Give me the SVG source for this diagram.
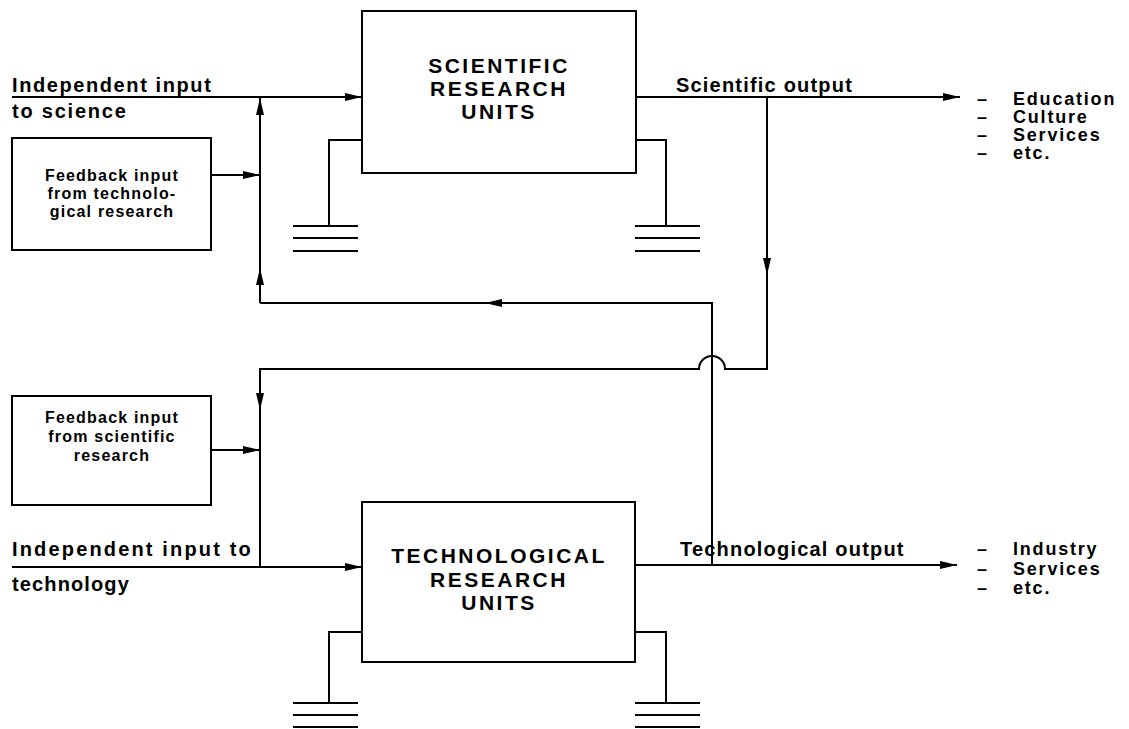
<svg xmlns="http://www.w3.org/2000/svg" width="1129" height="729" viewBox="0 0 1129 729">
<style>
.ln{fill:none;stroke:#000;stroke-width:2}
.bx{fill:#fff;stroke:#000;stroke-width:2}
.t{font-family:"Liberation Sans",Arial,sans-serif;font-weight:bold;fill:#000}
.lbl{font-size:20px;letter-spacing:1.2px}
.lst{font-size:18px;letter-spacing:1.8px}
.big{font-size:21px;letter-spacing:2.5px;text-anchor:middle}
.fb{font-size:16px;letter-spacing:1.2px;text-anchor:middle}
</style>
<defs>
<marker id="ah" markerUnits="userSpaceOnUse" markerWidth="18" markerHeight="10" refX="17" refY="4.5" orient="auto">
<path d="M0,0.5 L17,4.5 L0,8.5 z" fill="#000"/>
</marker>
</defs>
<rect width="1129" height="729" fill="#fff"/>
<g id="connectors">
<path class="ln" d="M12,97 H362" marker-end="url(#ah)"/>
<path class="ln" d="M260,303 V268" marker-end="url(#ah)"/>
<path class="ln" d="M260,270 V98" marker-end="url(#ah)"/>
<path class="ln" d="M211,175 H260" marker-end="url(#ah)"/>
<path class="ln" d="M712,565 V303 H485" marker-end="url(#ah)"/>
<path class="ln" d="M487,303 H260"/>
<path class="ln" d="M636,97 H960" marker-end="url(#ah)"/>
<path class="ln" d="M767,97 V275" marker-end="url(#ah)"/>
<path class="ln" d="M767,273 V369 H725 A13,13 0 0 0 699,369 H260 V410" marker-end="url(#ah)"/>
<path class="ln" d="M260,408 V567"/>
<path class="ln" d="M211,450 H260" marker-end="url(#ah)"/>
<path class="ln" d="M12,567 H362" marker-end="url(#ah)"/>
<path class="ln" d="M636,565 H957" marker-end="url(#ah)"/>
<path class="ln" d="M362,140 H329 V226 M293,226 H358 M293,238 H358 M293,251 H358"/>
<path class="ln" d="M636,140 H666 V226 M635,226 H700 M635,238 H700 M635,251 H700"/>
<path class="ln" d="M362,632 H329 V703 M293,703 H358 M293,715 H358 M293,727 H358"/>
<path class="ln" d="M635,632 H666 V703 M635,703 H700 M635,715 H700 M635,727 H700"/>
</g>
<g id="sci-box">
<rect class="bx" x="362" y="11" width="274" height="162"/>
<text class="t big" x="499" y="73">SCIENTIFIC</text>
<text class="t big" x="499" y="96">RESEARCH</text>
<text class="t big" x="499" y="119">UNITS</text>
</g>
<g id="tech-box">
<rect class="bx" x="362" y="502" width="273" height="160"/>
<text class="t big" x="499" y="563">TECHNOLOGICAL</text>
<text class="t big" x="499" y="587">RESEARCH</text>
<text class="t big" x="499" y="610">UNITS</text>
</g>
<g id="fb-tech">
<rect class="bx" x="12" y="138" width="199" height="112"/>
<text class="t fb" x="112" y="181">Feedback input</text>
<text class="t fb" x="112" y="199">from technolo-</text>
<text class="t fb" x="112" y="217">gical research</text>
</g>
<g id="fb-sci">
<rect class="bx" x="12" y="396" width="199" height="109"/>
<text class="t fb" x="112" y="423">Feedback input</text>
<text class="t fb" x="112" y="442">from scientific</text>
<text class="t fb" x="112" y="461">research</text>
</g>
<g id="labels">
<text class="t lbl" x="12" y="92" textLength="200" lengthAdjust="spacing">Independent input</text>
<text class="t lbl" x="12" y="118" textLength="115" lengthAdjust="spacing">to science</text>
<text class="t lbl" x="12" y="556" textLength="240" lengthAdjust="spacing">Independent input to</text>
<text class="t lbl" x="12" y="591" textLength="118" lengthAdjust="spacing">technology</text>
<text class="t lbl" x="676" y="92">Scientific output</text>
<text class="t lbl" x="680" y="556">Technological output</text>
</g>
<g id="sci-outputs">
<text class="t lst" x="977" y="105">–</text><text class="t lst" x="1013" y="105">Education</text>
<text class="t lst" x="977" y="123">–</text><text class="t lst" x="1013" y="123">Culture</text>
<text class="t lst" x="977" y="141">–</text><text class="t lst" x="1013" y="141">Services</text>
<text class="t lst" x="977" y="159">–</text><text class="t lst" x="1013" y="159">etc.</text>
</g>
<g id="tech-outputs">
<text class="t lst" x="977" y="555">–</text><text class="t lst" x="1013" y="555">Industry</text>
<text class="t lst" x="977" y="575">–</text><text class="t lst" x="1013" y="575">Services</text>
<text class="t lst" x="977" y="594">–</text><text class="t lst" x="1013" y="594">etc.</text>
</g>
</svg>
